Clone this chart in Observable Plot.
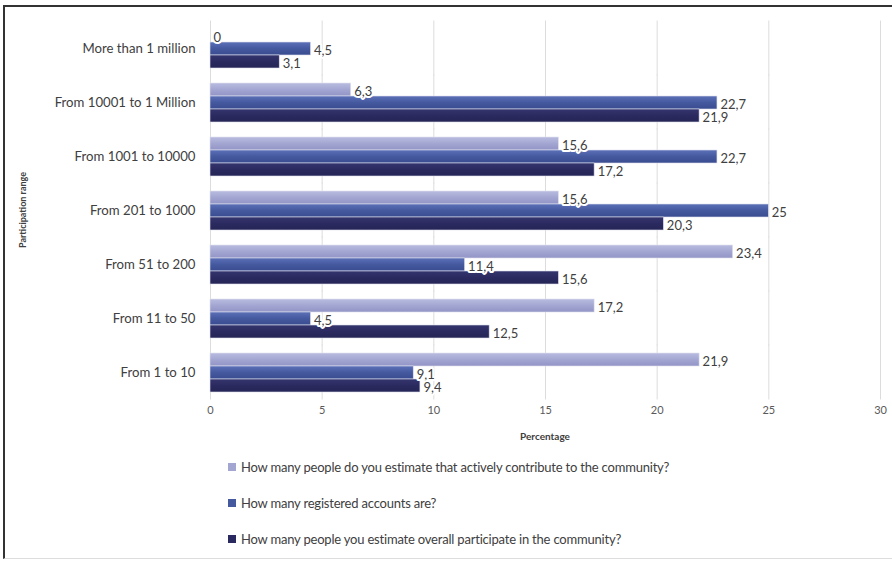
<!DOCTYPE html>
<html>
<head>
<meta charset="utf-8">
<script src="https://cdn.jsdelivr.net/npm/d3@7"></script>
<script src="https://cdn.jsdelivr.net/npm/@observablehq/plot@0.6"></script>
<style>
  html, body { margin: 0; padding: 0; background: #fff; }
  #wrap { position: relative; width: 892px; height: 564px; overflow: hidden; font-family: Lato, "Open Sans", sans-serif; color: #404040; }
  #frame { position: absolute; left: 3px; top: 5px; width: 889px; height: 554px; border-left: 2px solid #333; border-top: 2px solid #333; border-bottom: 1px solid #ddd; box-sizing: border-box; pointer-events: none; }
  #chart { position: absolute; left: 0; top: 0; }
  #xtitle { position: absolute; left: 545px; top: 430px; transform: translateX(-50%); font-size: 10px; font-weight: bold; color: #404040; }
  #ytitle { position: absolute; left: 22px; top: 210px; transform: translate(-50%, -50%) rotate(-90deg); font-size: 9px; font-weight: bold; color: #404040; white-space: nowrap; }
  #legend { position: absolute; left: 228px; top: 457px; font-size: 13px; letter-spacing: -0.2px; color: #404040; }
  .item { display: flex; align-items: center; height: 20px; margin-bottom: 16px; white-space: nowrap; }
  .sw { width: 8px; height: 8px; margin-right: 5px; }
</style>
</head>
<body>
<svg width="0" height="0" style="position:absolute">
  <defs>
    <linearGradient id="g0" x1="0" y1="0" x2="0" y2="1">
      <stop offset="0" stop-color="#b9bce0"/><stop offset="0.5" stop-color="#a3a6d1"/><stop offset="1" stop-color="#9295c6"/>
    </linearGradient>
    <linearGradient id="g1" x1="0" y1="0" x2="0" y2="1">
      <stop offset="0" stop-color="#5b70b8"/><stop offset="0.5" stop-color="#45599f"/><stop offset="1" stop-color="#3a4c90"/>
    </linearGradient>
    <linearGradient id="g2" x1="0" y1="0" x2="0" y2="1">
      <stop offset="0" stop-color="#35356e"/><stop offset="0.5" stop-color="#2b2a60"/><stop offset="1" stop-color="#262556"/>
    </linearGradient>
  </defs>
</svg>
<div id="wrap">
  <div id="chart"></div>
  <div id="xtitle">Percentage</div>
  <div id="ytitle">Participation range</div>
  <div id="legend"></div>
  <div id="frame"></div>
</div>
<script>
const categories = [
  "More than 1 million",
  "From 10001 to 1 Million",
  "From 1001 to 10000",
  "From 201 to 1000",
  "From 51 to 200",
  "From 11 to 50",
  "From 1 to 10"
];
const series = [
  "How many people do you estimate that actively contribute to the community?",
  "How many registered accounts are?",
  "How many people you estimate overall participate in the community?"
];
const active = [0, 6.3, 15.6, 15.6, 23.4, 17.2, 21.9];
const registered = [4.5, 22.7, 22.7, 25, 11.4, 4.5, 9.1];
const overall = [3.1, 21.9, 17.2, 20.3, 15.6, 12.5, 9.4];
const xTicks = [0, 5, 10, 15, 20, 25, 30];
const fills = ["url(#g0)", "url(#g1)", "url(#g2)"];
const swatchColors = ["#a3a6d1", "#45599f", "#2b2a60"];

const values = [active, registered, overall];
const data = categories.flatMap((c, i) => series.map((s, k) => ({c, s, v: values[k][i]})));

const chart = Plot.plot({
  width: 892,
  height: 450,
  marginLeft: 210,
  marginRight: 12,
  marginTop: 21,
  marginBottom: 51,
  style: {fontFamily: "Lato, 'Open Sans', sans-serif", color: "#404040", background: "transparent"},
  x: {domain: [0, 30]},
  fy: {domain: categories, paddingInner: 0.26, paddingOuter: 0.13},
  y: {domain: series, padding: 0, axis: null},
  color: {domain: series, range: fills},
  marks: [
    Plot.ruleX(xTicks, {stroke: "#dcdcdc", strokeWidth: 1, insetTop: -7.5, insetBottom: -7.5}),
    Plot.barX(data, {fy: "c", y: "s", x: "v", fill: "s", stroke: "#dfe0ee", strokeWidth: 0.6}),
    Plot.text(data, {
      fy: "c", y: "s", x: "v",
      text: d => String(d.v).replace(".", ","),
      textAnchor: "start", dx: 3, dy: 2,
      fill: "#404040", stroke: "white", strokeWidth: 4,
      fontSize: 13
    }),
    Plot.axisFy({anchor: "left", label: null, tickSize: 0, tickPadding: 15, fontSize: 13.2, fill: "#404040"}),
    Plot.axisX({ticks: xTicks, label: null, tickSize: 0, tickPadding: 14, fontSize: 11, fill: "#595959"})
  ]
});
document.getElementById("chart").appendChild(chart);

const legend = document.getElementById("legend");
series.forEach((s, k) => {
  const item = document.createElement("div");
  item.className = "item";
  const sw = document.createElement("span");
  sw.className = "sw";
  sw.style.background = swatchColors[k];
  const t = document.createElement("span");
  t.textContent = s;
  item.appendChild(sw);
  item.appendChild(t);
  legend.appendChild(item);
});
</script>
</body>
</html>
